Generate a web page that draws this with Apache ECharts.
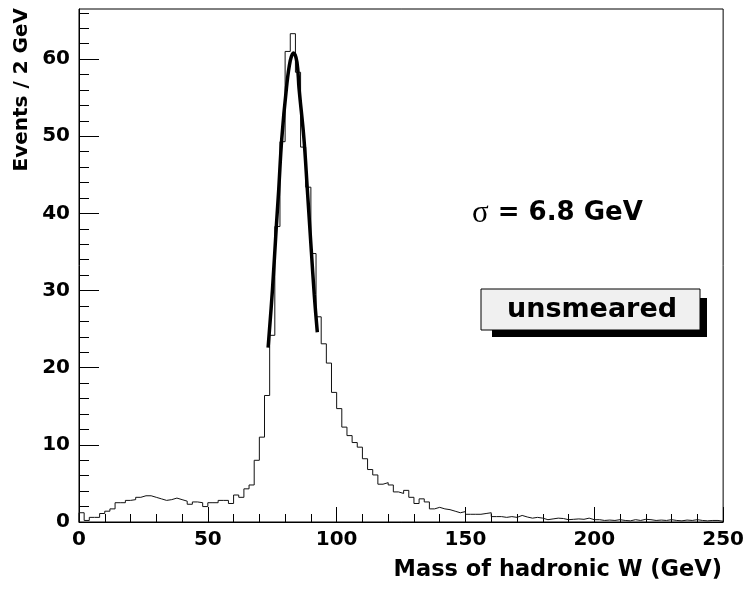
<!DOCTYPE html>
<html>
<head>
<meta charset="utf-8">
<script src="https://cdn.jsdelivr.net/npm/echarts@6/dist/echarts.min.js"></script>
<style>
html,body{margin:0;padding:0;background:#fff;}
#chart{width:747px;height:590px;}
</style>
</head>
<body>
<div id="chart"></div>
<script>
// Histogram: 125 bins of 2 GeV from 0 to 250 GeV
const binWidth = 2;
const binValues = [
  1.2, 0.2, 0.6, 0.6, 1.1, 1.4, 1.7, 2.5, 2.5, 2.8,
  2.9, 3.2, 3.4, 3.4, 3.2, 3.0, 2.8, 2.9, 3.1, 2.9,
  2.7, 2.3, 2.6, 2.5, 2.0, 2.5, 2.5, 2.8, 2.8, 2.4,
  3.5, 3.2, 4.3, 4.8, 8.0, 11.0, 16.4, 24.2, 38.3, 49.3,
  61.0, 63.3, 58.3, 48.6, 43.4, 34.8, 26.6, 23.1, 20.6, 16.8,
  14.7, 12.3, 11.2, 10.3, 9.7, 8.2, 6.8, 6.1, 4.9, 5.1,
  4.8, 3.9, 3.7, 4.1, 3.2, 2.4, 3.0, 2.6, 1.7, 1.9,
  1.7, 1.6, 1.4, 1.2, 1.35, 1.0, 1.0, 1.0, 1.1, 1.2,
  0.7, 0.7, 0.6, 0.7, 0.6, 0.85, 0.65, 0.5, 0.6, 0.5,
  0.3, 0.4, 0.5, 0.45, 0.3, 0.35, 0.4, 0.35, 0.5, 0.3,
  0.3, 0.2, 0.25, 0.2, 0.3, 0.2, 0.15, 0.3, 0.2, 0.35,
  0.3, 0.2, 0.25, 0.2, 0.3, 0.2, 0.15, 0.25, 0.2, 0.3,
  0.2, 0.15, 0.2, 0.2, 0.1
];

// Gaussian fit curve
const fitX = [73.4, 75.1, 76.6, 77.5, 78.7, 80.5, 82.0, 83.3, 84.6, 85.4, 87.3, 88.6, 90.2, 91.3, 92.5];
const fitY = [22.6, 30.2, 38.4, 43.0, 49.7, 56.2, 59.8, 60.8, 59.6, 56.2, 49.7, 43.2, 35.0, 29.5, 24.6];

// Axis ticks
const xMajorTicks = [0, 50, 100, 150, 200, 250];
const yMajorTicks = [0, 10, 20, 30, 40, 50, 60];
const xMax = 250;
const yMax = 66.5;

const xMinorTicks = [];
for (let v = 0; v <= xMax; v += 10) xMinorTicks.push(v);
const yMinorTicks = [];
for (let v = 0; v <= 66; v += 2) yMinorTicks.push(v);

const histData = [[0, 0]];
binValues.forEach((v, i) => histData.push([i * binWidth, v]));
histData.push([binValues.length * binWidth, binValues[binValues.length - 1]]);
histData.push([binValues.length * binWidth, 0]);

const fitData = fitX.map((x, i) => [x, fitY[i]]);

const FONT = 'DejaVu Sans';
const labelStyle = { fontFamily: FONT, fontWeight: 'bold', fontSize: 20, color: '#000' };

const chart = echarts.init(document.getElementById('chart'), null, { renderer: 'canvas' });
chart.setOption({
  animation: false,
  backgroundColor: '#fff',
  grid: { left: 79, right: 23, top: 9, bottom: 68, show: true, borderColor: '#000', borderWidth: 1, backgroundColor: 'transparent' },
  xAxis: [
    {
      type: 'value', min: 0, max: xMax, position: 'bottom',
      axisLine: { show: true, onZero: false, lineStyle: { color: '#000', width: 1 } },
      axisTick: { show: true, inside: true, length: 15, customValues: xMajorTicks, lineStyle: { color: '#000', width: 1 } },
      axisLabel: Object.assign({ margin: 8, customValues: xMajorTicks }, labelStyle),
      splitLine: { show: false }
    },
    {
      type: 'value', min: 0, max: xMax, position: 'bottom', offset: 0,
      axisLine: { show: false },
      axisTick: { show: true, inside: true, length: 8, customValues: xMinorTicks, lineStyle: { color: '#000', width: 1 } },
      axisLabel: { show: false },
      splitLine: { show: false }
    }
  ],
  yAxis: [
    {
      type: 'value', min: 0, max: yMax, position: 'left',
      axisLine: { show: true, onZero: false, lineStyle: { color: '#000', width: 1 } },
      axisTick: { show: true, inside: true, length: 20, customValues: yMajorTicks, lineStyle: { color: '#000', width: 1 } },
      axisLabel: Object.assign({ margin: 9, customValues: yMajorTicks }, labelStyle),
      splitLine: { show: false }
    },
    {
      type: 'value', min: 0, max: yMax, position: 'left', offset: 0,
      axisLine: { show: false },
      axisTick: { show: true, inside: true, length: 10, customValues: yMinorTicks, lineStyle: { color: '#000', width: 1 } },
      axisLabel: { show: false },
      splitLine: { show: false }
    }
  ],
  series: [
    {
      name: 'hist', type: 'line', step: 'end', data: histData,
      xAxisIndex: 0, yAxisIndex: 0,
      symbol: 'none', lineStyle: { color: '#111', width: 1 }, z: 2
    },
    {
      name: 'fit', type: 'line', smooth: 0.4, data: fitData,
      xAxisIndex: 0, yAxisIndex: 0,
      symbol: 'none', lineStyle: { color: '#000', width: 3.5 }, z: 3
    }
  ],
  graphic: [
    {
      type: 'text', left: 12, top: 8, rotation: Math.PI / 2,
      style: { text: 'Events / 2 GeV', font: 'bold 20px "DejaVu Sans"', fill: '#000' },
      originX: 0, originY: 0
    },
    {
      type: 'text', right: 25, top: 559,
      style: { text: 'Mass of hadronic W (GeV)', font: 'bold 22.5px "DejaVu Sans"', fill: '#000' }
    },
    {
      type: 'text', left: 472, top: 198,
      style: {
        text: '{s|σ}{t| = 6.8 GeV}',
        rich: {
          s: { fontFamily: 'Liberation Serif', fontSize: 31, fontWeight: 'normal', fill: '#000' },
          t: { fontFamily: FONT, fontSize: 26, fontWeight: 'bold', fill: '#000' }
        }
      }
    },
    {
      type: 'rect', shape: { x: 492, y: 298, width: 215, height: 39 },
      style: { fill: '#000' }, z: 10
    },
    {
      type: 'rect', shape: { x: 481, y: 289, width: 219, height: 41 },
      style: { fill: '#f0f0f0', stroke: '#000', lineWidth: 1 }, z: 11
    },
    {
      type: 'text', x: 592, y: 310, z: 12,
      style: { text: 'unsmeared', font: 'bold 27px "DejaVu Sans"', fill: '#000', align: 'center', verticalAlign: 'middle' }
    }
  ]
});
</script>
</body>
</html>
